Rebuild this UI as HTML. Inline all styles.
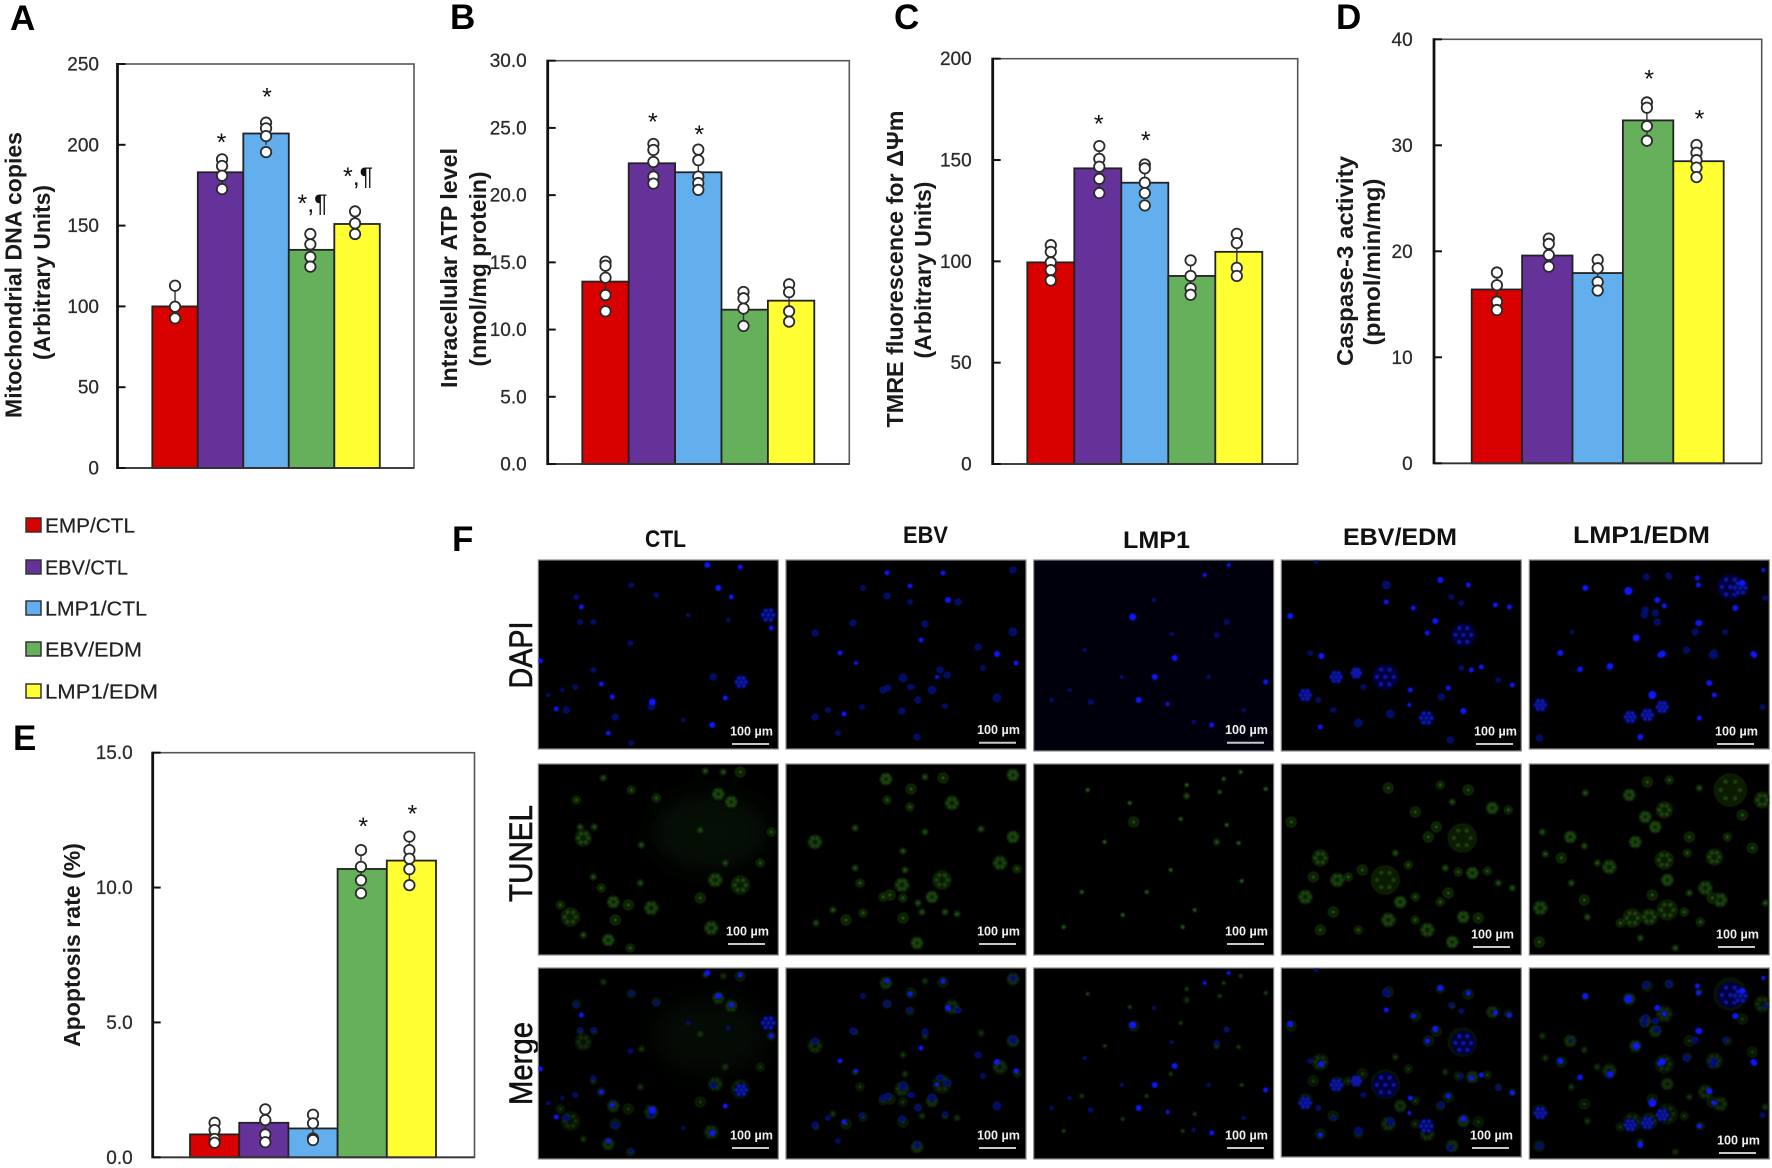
<!DOCTYPE html>
<html lang="en">
<head>
<meta charset="utf-8">
<title>Mitochondrial and apoptosis figure</title>
<style>
html,body{margin:0;padding:0;background:#fff;}
svg{display:block;}
text{font-family:"Liberation Sans",sans-serif;}
.letter{font-size:35px;font-weight:bold;fill:#000;}
.ytitle{font-size:23px;font-weight:bold;fill:#1a1a1a;text-anchor:middle;}
.tick{font-size:19px;fill:#2a2a2a;stroke:#2a2a2a;stroke-width:.25px;text-anchor:end;}
.star{font-size:25px;fill:#111;text-anchor:middle;}
.leg{font-size:20px;fill:#222;stroke:#222;stroke-width:.2px;}
.head{font-size:24px;font-weight:bold;fill:#111;}
.rowlab{font-size:32px;fill:#111;stroke:#111;stroke-width:.6px;text-anchor:middle;}
.sb{font-size:13px;font-weight:bold;fill:#eee;text-anchor:middle;}
</style>
</head>
<body>
<svg id="fig" xmlns="http://www.w3.org/2000/svg" width="1772" height="1168" viewBox="0 0 1772 1168">
<defs>
<filter id="soft" x="-5%" y="-5%" width="110%" height="110%"><feGaussianBlur stdDeviation="0.9"/></filter>
<filter id="haze" x="-50%" y="-50%" width="200%" height="200%"><feGaussianBlur stdDeviation="14"/></filter>
</defs>
<rect width="1772" height="1168" fill="#fff"/>

<text class="letter" x="10" y="30">A</text>
<text class="letter" x="450" y="29">B</text>
<text class="letter" x="894" y="29">C</text>
<text class="letter" x="1336" y="29">D</text>
<text class="letter" x="13" y="750">E</text>
<text class="letter" x="452" y="551">F</text>

<text class="ytitle" transform="translate(21.7,275) rotate(-90)" textLength="286" lengthAdjust="spacingAndGlyphs">Mitochondrial DNA copies</text>
<text class="ytitle" transform="translate(50,272.5) rotate(-90)" textLength="175" lengthAdjust="spacingAndGlyphs">(Arbitrary Units)</text>
<text class="ytitle" transform="translate(457,268) rotate(-90)" textLength="240" lengthAdjust="spacingAndGlyphs">Intracellular ATP level</text>
<text class="ytitle" transform="translate(486,269) rotate(-90)" textLength="195" lengthAdjust="spacingAndGlyphs">(nmol/mg protein)</text>
<text class="ytitle" transform="translate(903,269) rotate(-90)" textLength="317" lengthAdjust="spacingAndGlyphs">TMRE fluorescence for ΔΨm</text>
<text class="ytitle" transform="translate(931,270) rotate(-90)" textLength="177" lengthAdjust="spacingAndGlyphs">(Arbitrary Units)</text>
<text class="ytitle" transform="translate(1353,261) rotate(-90)" textLength="210" lengthAdjust="spacingAndGlyphs">Caspase-3 activity</text>
<text class="ytitle" transform="translate(1380,262) rotate(-90)" textLength="167" lengthAdjust="spacingAndGlyphs">(pmol/min/mg)</text>
<text class="ytitle" transform="translate(80,945) rotate(-90)" textLength="204" lengthAdjust="spacingAndGlyphs">Apoptosis rate (%)</text>

<g>
<rect x="26" y="518" width="15" height="14" fill="#d90000" stroke="#333" stroke-width="1.5"/>
<text class="leg" x="45" y="532.5" textLength="90" lengthAdjust="spacingAndGlyphs">EMP/CTL</text>
<rect x="26" y="560" width="15" height="14" fill="#643299" stroke="#333" stroke-width="1.5"/>
<text class="leg" x="45" y="574.5" textLength="83" lengthAdjust="spacingAndGlyphs">EBV/CTL</text>
<rect x="26" y="601" width="15" height="14" fill="#63aeec" stroke="#333" stroke-width="1.5"/>
<text class="leg" x="45" y="615.5" textLength="102" lengthAdjust="spacingAndGlyphs">LMP1/CTL</text>
<rect x="26" y="642" width="15" height="14" fill="#66b05c" stroke="#333" stroke-width="1.5"/>
<text class="leg" x="45" y="656.5" textLength="97" lengthAdjust="spacingAndGlyphs">EBV/EDM</text>
<rect x="26" y="684" width="15" height="14" fill="#ffff33" stroke="#333" stroke-width="1.5"/>
<text class="leg" x="45" y="698.5" textLength="113" lengthAdjust="spacingAndGlyphs">LMP1/EDM</text>
</g>

<text class="head" x="645" y="547" textLength="41" lengthAdjust="spacingAndGlyphs">CTL</text>
<text class="head" x="903" y="543" textLength="45" lengthAdjust="spacingAndGlyphs">EBV</text>
<text class="head" x="1123" y="548" textLength="67" lengthAdjust="spacingAndGlyphs">LMP1</text>
<text class="head" x="1343" y="545" textLength="114" lengthAdjust="spacingAndGlyphs">EBV/EDM</text>
<text class="head" x="1573" y="543" textLength="137" lengthAdjust="spacingAndGlyphs">LMP1/EDM</text>

<text class="rowlab" transform="translate(532,655) rotate(-90)" textLength="67" lengthAdjust="spacingAndGlyphs">DAPI</text>
<text class="rowlab" transform="translate(532,853.5) rotate(-90)" textLength="97" lengthAdjust="spacingAndGlyphs">TUNEL</text>
<text class="rowlab" transform="translate(532,1063.5) rotate(-90)" textLength="83" lengthAdjust="spacingAndGlyphs">Merge</text>

<g id="charts"></g>
<g id="micro"></g>
</svg>

<script>
// ---------- chart data ----------
const categories = ['EMP/CTL', 'EBV/CTL', 'LMP1/CTL', 'EBV/EDM', 'LMP1/EDM'];

const aTicks = ['0', '50', '100', '150', '200', '250'];
const aBars = [100, 183, 207, 135, 151];
const aErrors = [11, 8, 7, 9, 7];
const aPoints = [
  [112.8, 99.8, 92.6],
  [191, 186.9, 180.9, 172.6],
  [213.7, 210.2, 205.4, 195.5],
  [144.8, 138.4, 130.6, 124.6],
  [158.8, 151.4, 144.8]
];
const aMarks = ['', '*', '*', '*,¶', '*,¶'];
const aMarkLevels = [0, 196.3, 224.4, 158.4, 175];

const bTicks = ['0.0', '5.0', '10.0', '15.0', '20.0', '25.0', '30.0'];
const bBars = [13.57, 22.37, 21.7, 11.48, 12.15];
const bErrors = [1.5, 1.1, 1.2, 1, 1.2];
const bPoints = [
  [15.05, 14.75, 13.86, 12.57, 11.36],
  [23.81, 23.36, 22.47, 21.38, 20.86],
  [23.39, 22.6, 21.38, 20.9, 20.39],
  [12.8, 12.33, 11.56, 10.27],
  [13.37, 12.78, 11.36, 10.59]
];
const bMarks = ['', '*', '*', '', ''];
const bMarkLevels = [0, 24.8, 23.86, 0, 0];

const cTicks = ['0', '50', '100', '150', '200'];
const cBars = [99.5, 145.9, 138.8, 92.8, 104.7];
const cErrors = [8, 10, 8, 7, 8];
const cPoints = [
  [108, 104.7, 99.5, 95.7, 90.6],
  [156.9, 150.6, 146.7, 140.7, 133.7],
  [147.8, 145.9, 138.8, 133.7, 127.6],
  [100.5, 92.8, 86.7, 83.5],
  [113.6, 109, 96.8, 92.8]
];
const cMarks = ['', '*', '*', '', ''];
const cMarkLevels = [0, 163.6, 155.4, 0, 0];

const dTicks = ['0', '10', '20', '30', '40'];
const dBars = [16.4, 19.6, 17.95, 32.35, 28.5];
const dErrors = [1.6, 1.1, 1.1, 1.6, 1.2];
const dPoints = [
  [18, 16.8, 15.25, 14.46],
  [21.2, 20.7, 19.65, 18.55],
  [19.2, 18.4, 17.1, 16.3],
  [34.05, 33.55, 31.8, 30.43],
  [30.03, 29.3, 28.6, 27.9, 27]
];
const dMarks = ['', '', '', '*', '*'];
const dMarkLevels = [0, 0, 0, 35.47, 31.7];

const eTicks = ['0.0', '5.0', '10.0', '15.0'];
const eBars = [0.85, 1.28, 1.07, 10.69, 11.0];
const eErrors = [0.3, 0.5, 0.4, 0.6, 0.7];
const ePoints = [
  [1.28, 1.01, 0.68, 0.54],
  [1.78, 1.38, 0.85, 0.56],
  [1.58, 1.26, 0.7, 0.64],
  [11.39, 10.77, 10.27, 9.79],
  [11.89, 11.39, 11.07, 10.68, 10.09]
];
const eMarks = ['', '', '', '*', '*'];
const eMarkLevels = [0, 0, 0, 11.95, 12.41];

// ---------- microscopy texture lists, [x, y, r] inside a 240x190 field ----------
const dapiBright = [
  [[202,7,2.5],[193,37,2.5],[180,28,3],[233,68,2.5],[169,5,3],[43,47,2.5],[2,101,2.5],[74,137,2.5],[114,142,3.5],[18,149,2.5],[187,138,2.5],[174,165,3],[63,124,2.5],[70,173,2.5]],
  [[101,13,2.5],[124,26,2.5],[54,93,2.5],[58,154,2.5],[70,103,2],[157,13,2.5],[135,80,2.5],[211,94,3],[230,103,2.5],[151,117,2],[162,40,3]],
  [[99,57,3.5],[141,98,3],[121,117,3],[105,140,3],[134,144,2],[178,165,2.5],[232,122,2.5],[195,5,2],[171,15,2]],
  [[9,56,3],[40,96,3],[105,42,2.5],[132,48,2.5],[154,61,3],[146,73,2.5],[159,20,3],[187,25,2.5],[228,47,2.5],[214,45,2.5],[129,130,2.5],[167,128,2.5],[128,145,2],[182,151,3],[231,125,2.5],[200,107,2.5],[190,110,2.5],[39,167,2.5]],
  [[56,28,3],[99,31,4],[168,18,2.5],[169,25,2.5],[135,46,2.5],[128,40,3],[107,78,3.5],[169,63,3],[133,94,3.5],[224,94,3],[81,106,3],[51,109,2.5],[213,23,3],[206,48,3],[234,10,2],[31,93,3],[225,95,3],[131,95,3],[123,135,4],[180,123,3],[185,135,2.5],[170,63,3],[111,177,3],[170,158,2.5]]
];
const dapiDim = [
  [[230,55,8],[203,122,7],[38,37,3],[42,62,3],[55,62,3],[28,150,4],[77,157,4],[93,183,3],[113,147,4],[175,117,4],[93,25,3],[118,35,3],[92,83,3],[55,110,3],[37,127,3],[10,135,2],[24,130,2],[145,160,2],[190,60,2],[150,55,2]],
  [[29,73,4],[77,28,3],[101,36,4],[67,63,4],[117,118,5],[97,130,4],[76,147,3],[42,150,3],[29,157,4],[52,173,3],[124,127,3],[227,10,4],[139,64,4],[227,72,5],[192,87,4],[154,110,4],[161,115,4],[102,128,4],[126,127,3],[146,130,5],[132,140,4],[211,138,5],[159,146,3],[116,151,4],[131,177,4],[197,108,3],[172,42,4],[124,42,3]],
  [[193,62,3],[183,75,3],[138,74,2],[88,117,2],[175,117,2],[18,140,2],[57,142,3],[51,90,2],[36,130,2],[160,162,2],[210,150,2],[120,40,2]],
  [[105,25,5],[182,75,12],[104,117,13],[55,117,7],[75,113,6],[24,135,7],[29,93,3],[109,154,5],[145,158,8],[77,163,5],[52,150,3],[160,137,4],[217,120,3],[180,108,3],[170,37,3],[180,43,3],[169,180,4],[35,2,2],[82,127,3],[37,140,3]],
  [[201,27,13],[116,50,4],[128,62,4],[166,72,4],[184,95,5],[157,90,4],[139,15,3],[117,17,4],[236,38,3],[43,72,2],[196,72,3],[211,28,8],[133,147,7],[118,155,7],[101,157,7],[11,145,7],[126,53,4],[115,55,4],[140,17,3],[185,93,4],[233,147,3],[10,178,4],[80,107,4],[50,110,3]]
];
const tunelCells = [
  [[45,74,8],[38,36,4],[65,14,3],[93,26,4],[167,7,3],[185,8,3],[202,8,5],[180,30,6],[193,38,6],[118,34,4],[56,63,3],[42,63,3],[162,66,3],[103,81,3],[233,68,4],[222,99,4],[187,99,3],[177,116,7],[202,121,9],[102,119,3],[55,113,3],[63,124,4],[75,138,6],[90,141,5],[113,144,7],[162,134,5],[32,153,9],[22,141,4],[77,156,5],[70,176,6],[92,184,4],[173,164,7],[45,171,3]],
  [[100,15,6],[157,14,5],[139,13,3],[125,25,5],[101,36,4],[124,43,4],[166,39,7],[69,64,3],[29,78,7],[69,104,3],[117,87,3],[156,116,9],[116,121,7],[97,133,4],[117,134,4],[146,133,6],[132,139,3],[74,119,4],[47,146,3],[77,149,4],[60,156,5],[117,154,5],[136,148,3],[159,148,3],[131,179,6],[30,159,3],[227,11,6],[227,73,6],[214,99,7],[231,105,4],[195,65,3],[139,68,3],[171,150,3],[119,106,3],[104,131,5]],
  [[153,21,2],[153,32,3],[186,28,2],[96,39,2],[100,58,5],[207,8,2],[193,61,2],[232,25,2],[147,55,2],[183,78,3],[205,79,2],[71,78,2],[137,106,2],[48,128,2],[89,151,2],[161,146,2],[208,117,2],[149,163,2],[54,26,2],[113,128,2],[30,163,2],[190,15,2]],
  [[181,74,14],[104,116,14],[56,116,7],[39,94,8],[32,113,5],[24,133,7],[81,106,5],[67,113,4],[119,138,6],[107,156,7],[134,133,4],[147,73,5],[155,63,5],[187,26,5],[159,21,4],[107,24,5],[134,48,5],[171,38,3],[10,58,5],[211,44,6],[227,46,4],[191,109,6],[177,108,4],[206,107,4],[164,104,3],[146,166,7],[134,156,4],[182,153,6],[197,154,5],[39,166,5],[167,129,5],[159,138,4],[171,178,6],[52,148,5],[77,166,4],[127,101,4],[114,89,3],[231,124,3],[217,119,3]],
  [[201,26,16],[233,36,8],[140,16,4],[170,24,3],[118,18,5],[100,31,6],[135,46,8],[116,53,6],[126,63,6],[106,78,6],[160,73,5],[198,73,4],[158,89,4],[185,93,8],[135,96,9],[138,116,6],[176,124,7],[191,136,7],[138,146,10],[120,153,8],[103,154,9],[91,159,4],[155,148,4],[171,158,4],[123,131,5],[213,51,5],[223,84,5],[41,73,6],[55,82,3],[13,68,3],[16,90,3],[32,94,5],[80,103,7],[68,99,3],[42,119,3],[55,136,5],[11,144,7],[58,153,3],[10,178,5],[111,174,3],[146,184,3],[56,29,3],[236,139,3],[183,134,5],[160,129,3]]
];
const columnX = [538.3, 786, 1033.7, 1281.3, 1529.3];
const rowY = [560, 764, 968];
const rowNames = ['dapi', 'tunel', 'merge'];
const columnNames = ['ctl', 'ebv', 'lmp1', 'ebv-edm', 'lmp1-edm'];
const fieldHeights = [[189,189,191,191,189],[191,191,191,191,191],[191,191,191,189,191]];
const scaleBarLeft = [[732,979,1227,1476,1717],[728,979,1227,1473,1718],[732,979,1227,1472,1719]];
const scaleBarY = [[744,742.7,742.7,744,744],[944,944,944,947,947],[1148,1148,1148,1148,1153]];
const scaleLabel = '100 µm';

// ---------- helpers ----------
const NS = 'http://www.w3.org/2000/svg';
const colors = ['#d90000', '#643299', '#63aeec', '#66b05c', '#ffff33'];
const dotShift = [0, 1.5, 0, -1.2, -2];
const ringAngles = [0, 1.05, 2.1, 3.15, 4.2, 5.25];

function make(tag, attrs, parent) {
  const node = document.createElementNS(NS, tag);
  for (const k in attrs) node.setAttribute(k, attrs[k]);
  parent.appendChild(node);
  return node;
}
function yAxis(frame) {
  return v => frame.bottom - (v / frame.max) * (frame.bottom - frame.top);
}
function xBand(frame) {
  return i => frame.barStart + i * frame.barWidth;
}

function drawChart(id, frame, ticks, bars, errors, points, marks, levels) {
  const y = yAxis(frame);
  const x = xBand(frame);
  const root = document.getElementById('charts');
  const g = make('g', {}, root);
  
  

  const plot = make('rect', {x: frame.left, y: frame.top, width: frame.right - frame.left, height: frame.bottom - frame.top, fill: '#fff', stroke: '#555', 'stroke-width': 1.6}, g);
  
  

  bars.forEach((v, i) => {
    const bar = make('rect', {x: x(i), y: y(v), width: frame.barWidth, height: frame.bottom - y(v), fill: colors[i], stroke: '#222', 'stroke-width': 1.8}, g);
    
    
  });

  const yAxisLine = make('line', {x1: frame.left, x2: frame.left, y1: frame.top - 1, y2: frame.bottom + 1, stroke: '#111', 'stroke-width': 2.8}, g);
  
  
  const xAxisLine = make('line', {x1: frame.left, x2: frame.right, y1: frame.bottom, y2: frame.bottom, stroke: '#333', 'stroke-width': 1.8}, g);
  
  

  ticks.forEach(label => {
    const v = parseFloat(label);
    const tick = make('line', {x1: frame.left, x2: frame.left + 8, y1: y(v), y2: y(v), stroke: '#111', 'stroke-width': 2}, g);
    
    
    const t = make('text', {x: frame.labelRight, y: y(v) + 6.5, class: 'tick'}, g);
    t.textContent = label;
    
    
  });

  bars.forEach((v, i) => {
    const cx = x(i) + frame.barWidth / 2 + dotShift[i];
    const up = y(v + errors[i]);
    const down = y(v - errors[i]);
    const whisker = make('line', {x1: cx, x2: cx, y1: up, y2: down, stroke: '#333', 'stroke-width': 1.4}, g);
    
    
    points[i].forEach(p => {
      const dot = make('circle', {cx: cx, cy: y(p), r: 5.2, fill: '#fff', stroke: '#2a2a2a', 'stroke-width': 1.8}, g);
      
      
    });
    if (marks[i]) {
      const m = make('text', {x: x(i) + frame.barWidth / 2 + 1, y: y(levels[i]), class: 'star'}, g);
      m.textContent = marks[i];
      
      
    }
  });
}

drawChart('a', {left: 117.5, right: 414, top: 64, bottom: 468, max: 250, barStart: 152.3, barWidth: 45.5, labelRight: 99}, aTicks, aBars, aErrors, aPoints, aMarks, aMarkLevels);
drawChart('b', {left: 547.7, right: 849.3, top: 60.7, bottom: 464, max: 30, barStart: 582.3, barWidth: 46.4, labelRight: 526.7}, bTicks, bBars, bErrors, bPoints, bMarks, bMarkLevels);
drawChart('c', {left: 992.7, right: 1297.7, top: 58.7, bottom: 464, max: 200, barStart: 1027.3, barWidth: 47, labelRight: 971.7}, cTicks, cBars, cErrors, cPoints, cMarks, cMarkLevels);
drawChart('d', {left: 1434, right: 1761.7, top: 39.3, bottom: 463.3, max: 40, barStart: 1471.7, barWidth: 50.4, labelRight: 1412.7}, dTicks, dBars, dErrors, dPoints, dMarks, dMarkLevels);
drawChart('e', {left: 152.7, right: 474.5, top: 752.7, bottom: 1157.3, max: 15, barStart: 190, barWidth: 49.2, labelRight: 132.7}, eTicks, eBars, eErrors, ePoints, eMarks, eMarkLevels);

// ---------- microscopy fields ----------
function cellLayer(parent, list, opacity) {
  const layer = make('g', {filter: 'url(#soft)', opacity: opacity}, parent);
  list.forEach(c => {
    if (c[2] >= 6) {
      make('circle', {cx: c[0], cy: c[1], r: c[2], fill: '#091d05', stroke: '#102c08', 'stroke-width': 1}, layer);
      ringAngles.forEach(a => {
        make('circle', {cx: c[0] + Math.cos(a) * c[2] * 0.6, cy: c[1] + Math.sin(a) * c[2] * 0.6, r: 1.9, fill: '#1d4a0e'}, layer);
      });
    } else {
      make('circle', {cx: c[0], cy: c[1], r: c[2], fill: '#0a2006', stroke: '#14340a', 'stroke-width': 1}, layer);
      make('circle', {cx: c[0], cy: c[1], r: 1.2, fill: '#2c6c14'}, layer);
    }
  });
}
function nucleiLayer(parent, dim, bright) {
  const layer = make('g', {filter: 'url(#soft)'}, parent);
  dim.forEach(c => {
    if (c[2] >= 6) {
      make('circle', {cx: c[0], cy: c[1], r: c[2], fill: '#00063a'}, layer);
      ringAngles.forEach(a => {
        make('circle', {cx: c[0] + Math.cos(a) * c[2] * 0.65, cy: c[1] + Math.sin(a) * c[2] * 0.65, r: 1.9, fill: '#0a18b0'}, layer);
      });
      make('circle', {cx: c[0], cy: c[1], r: 1.9, fill: '#0a18b0'}, layer);
    } else {
      make('circle', {cx: c[0], cy: c[1], r: c[2] * 0.75, fill: '#000a60', stroke: '#0916a0', 'stroke-width': 0.8}, layer);
    }
  });
  bright.forEach(c => {
    make('circle', {cx: c[0], cy: c[1], r: c[2], fill: '#0a12ff'}, layer);
  });
}

const micro = document.getElementById('micro');
rowY.forEach((top, r) => {
  columnX.forEach((left, c) => {
    const h = fieldHeights[r][c];
    const clip = make('clipPath', {id: 'clip' + r + c}, micro);
    make('rect', {x: 0, y: 0, width: 240, height: h}, clip);

    const field = make('g', {transform: 'translate(' + left + ',' + top + ')'}, micro);
    
    
    const base = (r === 0 && c === 2) ? '#00000c' : '#000';
    make('rect', {x: 0, y: 0, width: 240, height: h, fill: base, stroke: '#8a8a8a', 'stroke-width': 1.2}, field);

    const inner = make('g', {'clip-path': 'url(#clip' + r + c + ')'}, field);
    if (r > 0 && c === 0) {
      make('ellipse', {cx: 172, cy: 68, rx: 58, ry: 38, fill: '#0e2007', opacity: r === 1 ? 0.45 : 0.35, filter: 'url(#haze)'}, inner);
    }
    if (r > 0) cellLayer(inner, tunelCells[c], r === 1 ? 0.95 : 0.65);
    if (r !== 1) nucleiLayer(inner, dapiDim[c], dapiBright[c]);

    const barX = scaleBarLeft[r][c];
    const barY = scaleBarY[r][c];
    const sbLine = make('line', {x1: barX, x2: barX + 37, y1: barY, y2: barY, stroke: '#c8c8c8', 'stroke-width': 2}, micro);
    
    
    const sbText = make('text', {x: barX + 19.5, y: barY - 8.5, class: 'sb', textLength: 43, lengthAdjust: 'spacingAndGlyphs'}, micro);
    sbText.textContent = scaleLabel;
    
    
  });
});
</script>
</body>
</html>
